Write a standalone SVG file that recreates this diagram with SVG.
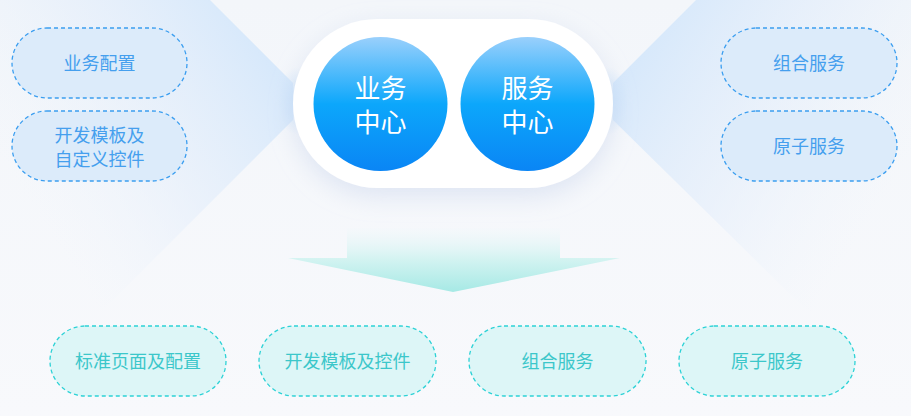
<svg xmlns="http://www.w3.org/2000/svg" width="911" height="416" viewBox="0 0 911 416">
<defs>
<linearGradient id="bg" x1="0" y1="0" x2="0" y2="1">
<stop offset="0" stop-color="#f3f6fa"/>
<stop offset="1" stop-color="#f8f9fc"/>
</linearGradient>
<linearGradient id="beamL" gradientUnits="userSpaceOnUse" x1="293" y1="101" x2="60" y2="250">
<stop offset="0" stop-color="#d6e8fb" stop-opacity="0.95"/>
<stop offset="0.5" stop-color="#e4eefb" stop-opacity="0.6"/>
<stop offset="1" stop-color="#eef4fb" stop-opacity="0"/>
</linearGradient>
<linearGradient id="beamR" gradientUnits="userSpaceOnUse" x1="613" y1="101" x2="851" y2="250">
<stop offset="0" stop-color="#d6e8fb" stop-opacity="0.95"/>
<stop offset="0.5" stop-color="#e4eefb" stop-opacity="0.6"/>
<stop offset="1" stop-color="#eef4fb" stop-opacity="0"/>
</linearGradient>
<radialGradient id="glow" cx="0.5" cy="0.5" r="0.5">
<stop offset="0" stop-color="#cfe5fb" stop-opacity="1"/>
<stop offset="1" stop-color="#cfe5fb" stop-opacity="0"/>
</radialGradient>
<linearGradient id="circ" x1="0" y1="0" x2="0" y2="1">
<stop offset="0" stop-color="#9ad0fc"/>
<stop offset="0.5" stop-color="#0ca7fb"/>
<stop offset="1" stop-color="#0a85f5"/>
</linearGradient>
<linearGradient id="arrowG" gradientUnits="userSpaceOnUse" x1="0" y1="228" x2="0" y2="292">
<stop offset="0" stop-color="#f3f8fb" stop-opacity="0.4"/>
<stop offset="0.5" stop-color="#d2f3f1"/>
<stop offset="1" stop-color="#a6e9e5"/>
</linearGradient>
<filter id="shadow" x="-30%" y="-30%" width="160%" height="170%">
<feDropShadow dx="0" dy="8" stdDeviation="12" flood-color="#b9c8e6" flood-opacity="0.4"/>
</filter>
</defs>
<style>
.blue rect{fill:#dcebfa;stroke:#3b9ef0;stroke-width:1.3;stroke-dasharray:4 3}
.blue text{fill:#459fee}
.cyan rect{fill:#ddf6f7;stroke:#2dd2d6;stroke-width:1.3;stroke-dasharray:4 3}
.cyan text{fill:#3cc7ca}
text{font-family:"Noto Sans CJK SC","Noto Sans",sans-serif;font-size:18px;text-anchor:middle}
.big{font-size:26px;fill:#ffffff}
</style>
<rect width="911" height="416" fill="url(#bg)"/>
<g id="connectors">
<polygon points="293,83 210,0 0,0 0,413 293,120" fill="url(#beamL)"/>
<polygon points="613,83 696,0 911,0 911,413 613,120" fill="url(#beamR)"/>
<ellipse cx="296" cy="101" rx="18" ry="34" fill="url(#glow)"/>
<ellipse cx="610" cy="101" rx="18" ry="34" fill="url(#glow)"/>
<path d="M347,228 H560 V258 H620 L453,292 L288,258 H347 Z" fill="url(#arrowG)"/>
</g>
<g id="center">
<rect x="293" y="19" width="320" height="169" rx="84.5" fill="#ffffff" filter="url(#shadow)"/>
</g>
<g id="biz-center">
<circle cx="380.5" cy="104" r="67" fill="url(#circ)"/>
<text class="big" x="380.5" y="97.5">业务</text>
<text class="big" x="380.5" y="131.5">中心</text>
</g>
<g id="svc-center">
<circle cx="527.5" cy="104" r="67" fill="url(#circ)"/>
<text class="big" x="527.5" y="97.5">服务</text>
<text class="big" x="527.5" y="131.5">中心</text>
</g>
<g id="biz-config" class="blue">
<rect x="12" y="28" width="175" height="70" rx="35"/>
<text x="99.5" y="70">业务配置</text>
</g>
<g id="dev-template" class="blue">
<rect x="12" y="111" width="175" height="70" rx="35"/>
<text x="99.5" y="141.5">开发模板及</text>
<text x="99.5" y="165.5">自定义控件</text>
</g>
<g id="combo-svc" class="blue">
<rect x="721" y="28" width="176" height="70" rx="35"/>
<text x="809" y="70">组合服务</text>
</g>
<g id="atom-svc" class="blue">
<rect x="721" y="111" width="176" height="70" rx="35"/>
<text x="809" y="153">原子服务</text>
</g>
<g id="std-page" class="cyan">
<rect x="50" y="326" width="176" height="70" rx="35"/>
<text x="138" y="367.5">标准页面及配置</text>
</g>
<g id="dev-ctrl" class="cyan">
<rect x="259" y="326" width="177" height="70" rx="35"/>
<text x="347.5" y="367.5">开发模板及控件</text>
</g>
<g id="combo-svc-b" class="cyan">
<rect x="469" y="326" width="177" height="70" rx="35"/>
<text x="557.5" y="367.5">组合服务</text>
</g>
<g id="atom-svc-b" class="cyan">
<rect x="679" y="326" width="176" height="70" rx="35"/>
<text x="767" y="367.5">原子服务</text>
</g>
</svg>
